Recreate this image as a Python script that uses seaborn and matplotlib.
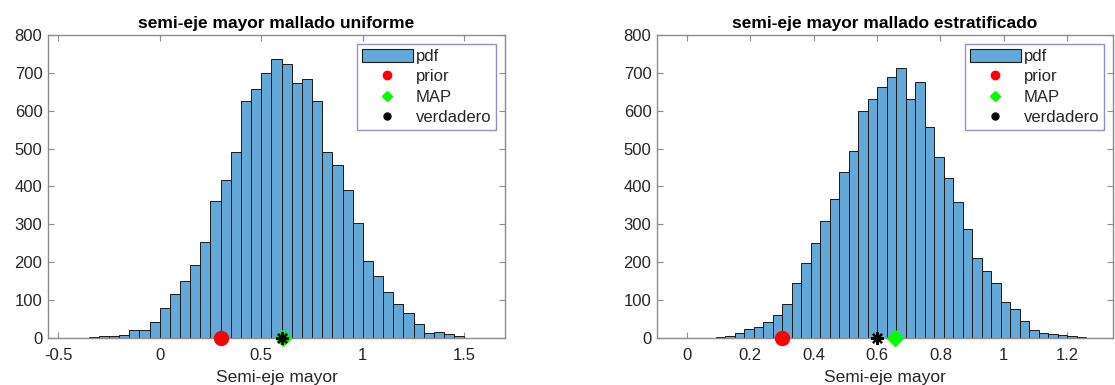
import numpy as np
import pandas as pd
import matplotlib
matplotlib.use("Agg")
import matplotlib.pyplot as plt
import seaborn as sns
from matplotlib.lines import Line2D
from matplotlib.patches import Patch

# ---------------- data ----------------
# left panel: bin width 0.05 starting at -0.35
uni_start = -0.35
uni_width = 0.05
uni_counts = [2, 4, 6, 8, 22, 22, 41, 78, 115, 151, 194, 254, 363, 418, 492,
              626, 658, 700, 736, 723, 674, 683, 627, 492, 457, 392, 303, 202,
              164, 122, 90, 67, 38, 13, 17, 11, 4]

# right panel: bin width 0.03 starting at 0
est_start = 0.0
est_width = 0.03
est_counts = [1, 0, 1, 3, 4, 13, 25, 28, 43, 61, 91, 144, 197, 250, 309, 366,
              438, 493, 600, 630, 663, 688, 714, 632, 675, 556, 478, 422, 358,
              289, 210, 178, 144, 96, 76, 46, 22, 14, 10, 8, 4, 2]

titles = ["semi-eje mayor mallado uniforme", "semi-eje mayor mallado estratificado"]
xlabel = "Semi-eje mayor"
legend_labels = ["pdf", "prior", "MAP", "verdadero"]

prior_vals = [0.3, 0.3]
map_vals = [0.607, 0.655]
true_vals = [0.6, 0.6]

xticks_left = [-0.5, 0, 0.5, 1, 1.5]
xtick_labels_left = ["-0.5", "0", "0.5", "1", "1.5"]
xticks_right = [0, 0.2, 0.4, 0.6, 0.8, 1.0, 1.2]
xtick_labels_right = ["0", "0.2", "0.4", "0.6", "0.8", "1", "1.2"]
yticks = [0, 100, 200, 300, 400, 500, 600, 700, 800]

# ---------------- style ----------------
sns.set_theme(style="white")
plt.rcParams["font.family"] = ["Liberation Sans", "DejaVu Sans"]

BAR = "#63a8d7"
FRAME = "#8c8c8c"
TXT = "#262626"

fig = plt.figure(figsize=(11.15, 3.85), dpi=100)
axL = fig.add_axes([48 / 1115, 1 - 338 / 385, (505 - 48) / 1115, (338 - 35) / 385])
axR = fig.add_axes([657 / 1115, 1 - 338 / 385, (1113 - 657) / 1115, (338 - 35) / 385])


def draw(ax, start, width, counts, xlim, xticks, xticklabels, title, i):
    n = len(counts)
    centers = [start + width * (k + 0.5) for k in range(n)]
    df = pd.DataFrame({"x": centers, "w": [float(c) for c in counts]})
    sns.histplot(data=df, x="x", weights="w", binwidth=width,
                 binrange=(start, start + n * width), ax=ax,
                 color=BAR, alpha=1.0, edgecolor="#1a1a1a", linewidth=0.7)
    ax.plot([prior_vals[i]], [0], "o", color="#ff0000", markersize=10,
            clip_on=False, zorder=5)
    ax.plot([map_vals[i]], [0], "D", color="#00ff00", markersize=8,
            clip_on=False, zorder=6)
    ax.plot([true_vals[i]], [0], marker=(8, 2, 0), color="black",
            markersize=9, markeredgewidth=1.6, linestyle="none",
            clip_on=False, zorder=7)
    ax.set_xlim(*xlim)
    ax.set_ylim(0, 800)
    ax.set_xticks(xticks)
    ax.set_xticklabels(xticklabels)
    ax.set_yticks(yticks)
    ax.set_ylabel("")
    ax.set_xlabel(xlabel, fontsize=12.5, color=TXT, labelpad=5)
    ax.set_title(title, fontsize=12.5, fontweight="bold", color="black", pad=5)
    ax.tick_params(axis="both", which="both", direction="in", length=4,
                   width=0.8, color=FRAME, labelsize=12, labelcolor=TXT,
                   top=True, right=True, bottom=True, left=True, pad=4)
    ax.tick_params(axis="x", pad=7)
    for s in ax.spines.values():
        s.set_color(FRAME)
        s.set_linewidth(1.0)
        s.set_visible(True)
    handles = [
        Patch(facecolor=BAR, edgecolor="#1a1a1a", linewidth=0.8),
        Line2D([], [], marker="o", color="#ff0000", linestyle="none", markersize=6),
        Line2D([], [], marker="D", color="#00ff00", linestyle="none", markersize=5),
        Line2D([], [], marker="o", color="black", linestyle="none", markersize=5),
    ]
    leg = ax.legend(handles, legend_labels, loc="upper right",
                    bbox_to_anchor=(0.981, 0.97), borderaxespad=0,
                    fontsize=12, frameon=True, fancybox=False,
                    handlelength=3.1, handleheight=0.8, handletextpad=0.15,
                    labelspacing=0.3, borderpad=0.3)
    leg.get_frame().set_edgecolor("#7474c4")
    leg.get_frame().set_linewidth(1.0)
    for t in leg.get_texts():
        t.set_color(TXT)


draw(axL, uni_start, uni_width, uni_counts, (-0.55, 1.70), xticks_left,
     xtick_labels_left, titles[0], 0)
draw(axR, est_start, est_width, est_counts, (-0.095, 1.345), xticks_right,
     xtick_labels_right, titles[1], 1)

fig.savefig("out.png", dpi=100)
